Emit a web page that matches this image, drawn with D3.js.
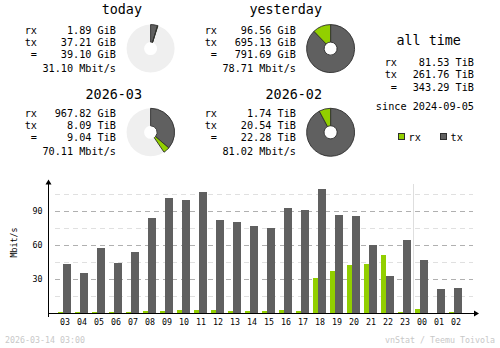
<!DOCTYPE html>
<html>
<head>
<meta charset="utf-8">
<script src="https://cdn.jsdelivr.net/npm/d3@7"></script>
<style>
  html, body { margin: 0; padding: 0; background: #fff; }
  svg { display: block; }
  text { font-family: "DejaVu Sans Mono", "Liberation Mono", monospace; fill: #000; }
</style>
</head>
<body>
<svg id="chart" width="500" height="348"></svg>
<script>
// Hourly average traffic (Mbit/s), last 24 hours
const hours = ["03","04","05","06","07","08","09","10","11","12","13","14",
               "15","16","17","18","19","20","21","22","23","00","01","02"];
const rxRate = [1.2, 1.2, 1.2, 1.2, 1.2, 2.0, 2.0, 2.9, 2.9, 2.9, 2.0, 2.0,
                2.0, 2.9, 2.0, 31.2, 37.3, 42.6, 43.5, 51.4, 1.2, 3.8, 0, 1.2];
const txRate = [43.5, 35.6, 57.6, 44.4, 54.1, 84.1, 101.7, 100.0, 107.0, 82.3, 80.6, 77.0,
                75.3, 93.0, 91.2, 109.7, 86.7, 85.9, 59.7, 32.9, 64.7, 47.0, 21.4, 22.3];
const majorTicks = [30, 60, 90];
const minorTicks = [15, 45, 75, 105];
const dayStartHour = "00";

// Period summaries
const periodNames = ["today", "yesterday", "2026-03", "2026-02"];
const rxAmount = [1.89, 96.56, 967.82, 1.74];
const rxUnit   = ["GiB", "GiB", "GiB", "TiB"];
const txAmount = [37.21, 695.13, 8.09, 20.54];
const txUnit   = ["GiB", "GiB", "TiB", "TiB"];
const totalAmount = [39.10, 791.69, 9.04, 22.28];
const totalUnit   = ["GiB", "GiB", "TiB", "TiB"];
const avgRate = [31.10, 78.71, 70.11, 81.02];

// All-time totals
const allTimeLabels = ["rx", "tx", "="];
const allTimeAmount = [81.53, 261.76, 343.29];
const allTimeUnit = "TiB";
const sinceDate = "2024-09-05";

const stampText = "2026-03-14 03:00";
const creditText = "vnStat / Teemu Toivola";

// Colours
const rxColor = "#92cf00";
const txColor = "#606060";
const edgeColor = "#2e2e2e";
const pieBg = "#efefef";

const svg = d3.select("#chart");
const fmt = d3.format(".2f");
const toGiB = (v, u) => u === "TiB" ? v * 1024 : v;

// ---------- summary blocks ----------
const rowBase = [33.5, 116.5];
const lineOffsets = [0, 12, 24.5, 38.5];
const titleBase = [14, 99];
const pieY = [48.6, 132.3];

periodNames.forEach((name, i) => {
  const col = i % 2, row = Math.floor(i / 2);
  const dx = col * 180;
  const g = svg.append("g");

  g.append("text")
    .attr("x", 142 + dx).attr("y", titleBase[row])
    .attr("text-anchor", "end")
    .style("font-size", "13.4px")
    .text(name);

  const labels = ["rx", "tx", "="];
  const values = [
    fmt(rxAmount[i]) + " " + rxUnit[i],
    fmt(txAmount[i]) + " " + txUnit[i],
    fmt(totalAmount[i]) + " " + totalUnit[i]
  ];
  labels.forEach((l, k) => {
    g.append("text")
      .attr("x", 37 + dx).attr("y", rowBase[row] + lineOffsets[k])
      .attr("text-anchor", "end").style("font-size", "10.2px").text(l);
    g.append("text")
      .attr("x", 116 + dx).attr("y", rowBase[row] + lineOffsets[k])
      .attr("text-anchor", "end").style("font-size", "10.2px").text(values[k]);
  });
  g.append("text")
    .attr("x", 116 + dx).attr("y", rowBase[row] + lineOffsets[3])
    .attr("text-anchor", "end").style("font-size", "10.2px")
    .text(fmt(avgRate[i]) + " Mbit/s");

  // donut: tx first clockwise from 12 o'clock, then rx
  const pair = row * 2;
  const sums = [0, 1].map(j => toGiB(rxAmount[pair + j], rxUnit[pair + j]) + toGiB(txAmount[pair + j], txUnit[pair + j]));
  const scale = Math.max(sums[0], sums[1]);
  const tx = toGiB(txAmount[i], txUnit[i]);
  const rx = toGiB(rxAmount[i], rxUnit[i]);
  const a1 = 2 * Math.PI * tx / scale;
  const a2 = 2 * Math.PI * (tx + rx) / scale;
  const arc = d3.arc().innerRadius(6.5).outerRadius(24);
  const pg = g.append("g").attr("transform", `translate(${150.6 + dx},${pieY[row]})`);
  if (a2 < 2 * Math.PI - 1e-6) {
    pg.append("path")
      .attr("d", arc({ startAngle: 0, endAngle: 2 * Math.PI }))
      .attr("fill", pieBg);
  }
  pg.append("path")
    .attr("d", arc({ startAngle: 0, endAngle: a1 }))
    .attr("fill", txColor).attr("stroke", edgeColor).attr("stroke-width", 0.9);
  pg.append("path")
    .attr("d", arc({ startAngle: a1, endAngle: a2 }))
    .attr("fill", rxColor).attr("stroke", edgeColor).attr("stroke-width", 0.9);
});

// ---------- all time block ----------
const at = svg.append("g");
at.append("text").attr("x", 428.7).attr("y", 45).attr("text-anchor", "middle")
  .style("font-size", "13.4px").text("all time");
const atBase = [66, 77.5, 91.3];
allTimeLabels.forEach((l, k) => {
  at.append("text").attr("x", 397).attr("y", atBase[k]).attr("text-anchor", "end")
    .style("font-size", "10.2px").text(l);
  at.append("text").attr("x", 474).attr("y", atBase[k]).attr("text-anchor", "end")
    .style("font-size", "10.2px").text(fmt(allTimeAmount[k]) + " " + allTimeUnit);
});
at.append("text").attr("x", 474).attr("y", 109.5).attr("text-anchor", "end")
  .style("font-size", "10.2px").text("since " + sinceDate);

// legend
const legend = [["rx", rxColor, 398.5], ["tx", txColor, 440.5]];
legend.forEach(([label, color, x]) => {
  at.append("rect").attr("x", x).attr("y", 133.5).attr("width", 6).attr("height", 6)
    .attr("fill", color).attr("stroke", edgeColor).attr("stroke-width", 1);
  at.append("text").attr("x", x + 10).attr("y", 140.5)
    .style("font-size", "10.2px").text(label);
});

// ---------- hourly bar chart ----------
const x = d3.scaleBand().domain(hours).range([56.5, 56.5 + 17 * hours.length]);
const y = d3.scaleLinear().domain([0, 30]).range([313, 279]);
const cx = h => x(h) + x.bandwidth() / 2;

const chart = svg.append("g").attr("shape-rendering", "crispEdges");

chart.selectAll("line.minor").data(minorTicks).join("line")
  .attr("class", "minor")
  .attr("x1", 55).attr("x2", 473)
  .attr("y1", d => Math.round(y(d)) + 0.5).attr("y2", d => Math.round(y(d)) + 0.5)
  .attr("stroke", "#e0e0e0").attr("stroke-dasharray", "5,4");
chart.selectAll("line.major").data(majorTicks).join("line")
  .attr("class", "major")
  .attr("x1", 55).attr("x2", 473)
  .attr("y1", d => Math.round(y(d)) + 0.5).attr("y2", d => Math.round(y(d)) + 0.5)
  .attr("stroke", "#b0b0b0").attr("stroke-dasharray", "5,4");

// day boundary
const sepX = Math.round(x(dayStartHour)) - 0.5 + 0.5;
chart.append("line")
  .attr("x1", sepX - 0.5).attr("x2", sepX - 0.5)
  .attr("y1", 184).attr("y2", 313)
  .attr("stroke", "#dedede");

chart.selectAll("rect.rx").data(hours).join("rect")
  .attr("class", "rx")
  .attr("x", (h) => cx(h) - 7).attr("width", 5)
  .attr("y", (h, i) => y(rxRate[i])).attr("height", (h, i) => y(0) - y(rxRate[i]))
  .attr("fill", rxColor);
chart.selectAll("rect.tx").data(hours).join("rect")
  .attr("class", "tx")
  .attr("x", (h) => cx(h) - 2).attr("width", 8)
  .attr("y", (h, i) => y(txRate[i])).attr("height", (h, i) => y(0) - y(txRate[i]))
  .attr("fill", txColor);

// axis lines with arrows
chart.append("line").attr("x1", 48.5).attr("x2", 48.5).attr("y1", 183).attr("y2", 317)
  .attr("stroke", "#000");
chart.append("line").attr("x1", 48).attr("x2", 475).attr("y1", 313.5).attr("y2", 313.5)
  .attr("stroke", "#000");
svg.append("path").attr("d", "M48.5,179.5 L45.5,184.5 L51.5,184.5 Z").attr("fill", "#000");
svg.append("path").attr("d", "M479,313.5 L474,310.5 L474,316.5 Z").attr("fill", "#000");

// tick labels
const xAxis = svg.append("g").attr("transform", "translate(0,313)")
  .call(d3.axisBottom(x).tickSize(0));
xAxis.select(".domain").remove();
xAxis.selectAll("text").attr("y", 11.5).attr("dy", null)
  .attr("fill", "#000")
  .style("font-family", "'DejaVu Sans Mono', monospace").style("font-size", "8.3px");

const yAxis = svg.append("g").attr("transform", "translate(48,0)")
  .call(d3.axisLeft(y).tickValues(majorTicks).tickSize(0).tickPadding(5.5));
yAxis.select(".domain").remove();
yAxis.selectAll("text").attr("fill", "#000")
  .style("font-family", "'DejaVu Sans Mono', monospace").style("font-size", "8.3px");

svg.append("text")
  .attr("transform", "translate(17.3,242.5) rotate(-90)")
  .attr("text-anchor", "middle")
  .style("font-size", "8.3px")
  .text("Mbit/s");

// footer
svg.append("text").attr("x", 5).attr("y", 342.5)
  .style("font-size", "8.3px").style("fill", "#c8c8c8").text(stampText);
svg.append("text").attr("x", 495).attr("y", 342.5).attr("text-anchor", "end")
  .style("font-size", "8.3px").style("fill", "#c8c8c8").text(creditText);
</script>
</body>
</html>
